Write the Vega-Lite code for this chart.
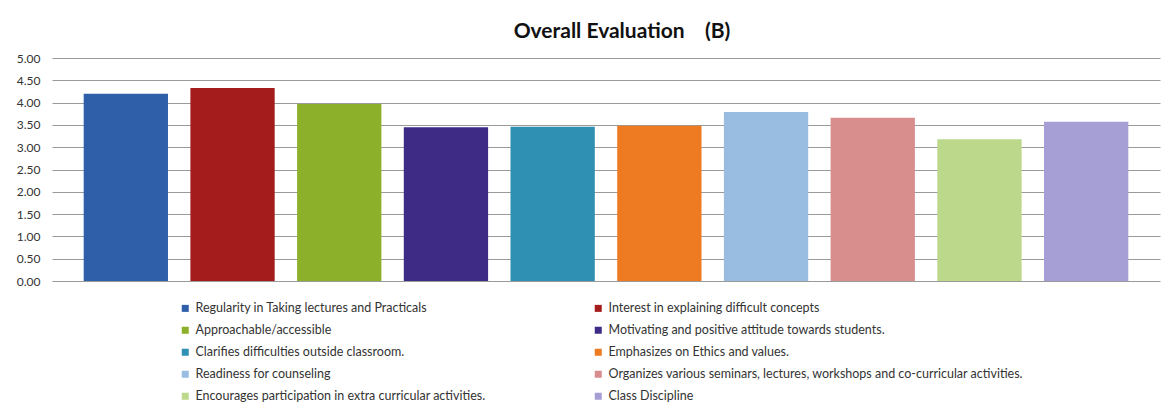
{
  "$schema": "https://vega.github.io/schema/vega-lite/v6.json",
  "autosize": {"type": "none"},
  "width": 1108,
  "height": 223,
  "padding": {"left": 52, "top": 58, "right": 8, "bottom": 123},
  "background": "white",
  "title": {
    "text": "Overall Evaluation\u00a0\u00a0\u00a0\u00a0(B)",
    "font": "Lato",
    "fontSize": 21,
    "fontWeight": "bold",
    "color": "#111111",
    "anchor": "middle",
    "dx": 16,
    "offset": 10
  },
  "data": {
    "values": [
      {"criterion": "Regularity in Taking lectures and Practicals", "score": 4.20},
      {"criterion": "Interest in explaining difficult concepts", "score": 4.33},
      {"criterion": "Approachable/accessible", "score": 3.97},
      {"criterion": "Motivating and positive attitude towards students.", "score": 3.45},
      {"criterion": "Clarifies difficulties outside classroom.", "score": 3.46},
      {"criterion": "Emphasizes on Ethics and values.", "score": 3.48},
      {"criterion": "Readiness for counseling", "score": 3.79},
      {"criterion": "Organizes various seminars, lectures, workshops and co-curricular activities.", "score": 3.66},
      {"criterion": "Encourages participation in extra curricular activities.", "score": 3.18},
      {"criterion": "Class Discipline", "score": 3.57}
    ]
  },
  "mark": {"type": "bar"},
  "encoding": {
    "x": {
      "field": "criterion",
      "type": "nominal",
      "sort": null,
      "scale": {"paddingInner": 0.21, "paddingOuter": 0.297},
      "axis": null
    },
    "y": {
      "field": "score",
      "type": "quantitative",
      "scale": {"domain": [0, 5], "nice": false},
      "axis": {
        "title": null,
        "values": [0, 0.5, 1, 1.5, 2, 2.5, 3, 3.5, 4, 4.5, 5],
        "format": ".2f",
        "ticks": false,
        "domain": false,
        "labelPadding": 12,
        "labelFont": "Lato",
        "labelFontSize": 12,
        "labelColor": "#333333",
        "gridColor": "#9a9a9a",
        "gridWidth": 1
      }
    },
    "color": {
      "field": "criterion",
      "type": "nominal",
      "sort": null,
      "scale": {
        "domain": [
          "Regularity in Taking lectures and Practicals",
          "Interest in explaining difficult concepts",
          "Approachable/accessible",
          "Motivating and positive attitude towards students.",
          "Clarifies difficulties outside classroom.",
          "Emphasizes on Ethics and values.",
          "Readiness for counseling",
          "Organizes various seminars, lectures, workshops and co-curricular activities.",
          "Encourages participation in extra curricular activities.",
          "Class Discipline"
        ],
        "range": ["#2E5FA8", "#A51C1C", "#8DB02A", "#3D2B86", "#2F90B3", "#EE7B22", "#99BDE0", "#D98E8E", "#BCD88B", "#A59FD6"]
      },
      "legend": {
        "title": null,
        "orient": "none",
        "direction": "horizontal",
        "legendX": 127,
        "legendY": 244,
        "columns": 2,
        "columnPadding": 106,
        "rowPadding": 9,
        "symbolType": "square",
        "symbolSize": 49,
        "symbolStrokeWidth": 0,
        "labelFont": "Lato",
        "labelFontSize": 12.5,
        "labelColor": "#333333",
        "labelLimit": 600,
        "labelOffset": 4
      }
    }
  },
  "config": {"view": {"stroke": null}}
}
